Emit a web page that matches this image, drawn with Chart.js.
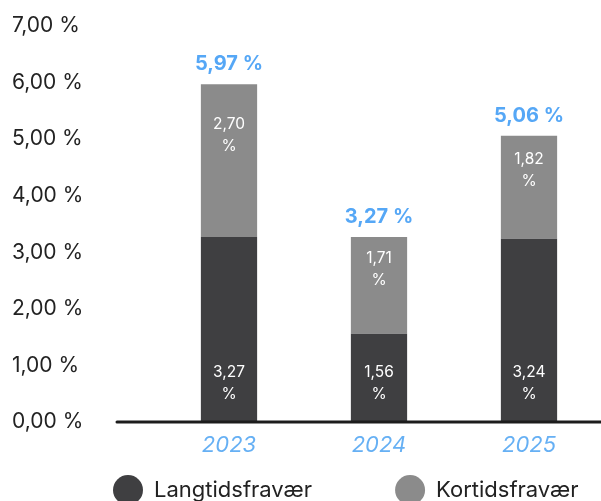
<!DOCTYPE html>
<html><head><meta charset="utf-8">
<script src="https://cdn.jsdelivr.net/npm/chart.js@4.4.1/dist/chart.umd.min.js"></script>
<style>
html,body{margin:0;padding:0;background:#fff;overflow:hidden;width:601px;height:501px;}
#wrap{position:relative;width:610px;height:501px;}
canvas{display:block;}
</style></head>
<body><div id="wrap"><canvas id="c" width="610" height="501"></canvas></div>
<script>
// ---- data ----
const years = ['2023', '2024', '2025'];
const langtid = [3.27, 1.56, 3.24];
const kortid = [2.70, 1.71, 1.82];
const seriesNames = ['Langtidsfravær', 'Kortidsfravær'];
const yTickValues = [0, 1, 2, 3, 4, 5, 6, 7];

// ---- style ----
const FONT = 'Inter, "Liberation Sans", sans-serif';
const DARK = '#3f3f41';
const GRAY = '#8b8b8b';
const BLUE = '#55a7f6';
const BLUE_LIGHT = '#66b0f4';
const fmt = v => v.toFixed(2).replace('.', ',');

const valueLabels = {
  id: 'valueLabels',
  afterDatasetsDraw(chart) {
    const ctx = chart.ctx;
    ctx.save();
    // baseline
    const y0 = chart.scales.y.getPixelForValue(0);
    ctx.beginPath();
    ctx.lineWidth = 3;
    ctx.lineCap = 'round';
    ctx.strokeStyle = '#1c1c1c';
    ctx.moveTo(chart.chartArea.left - 37, y0);
    ctx.lineTo(chart.width + 5, y0);
    ctx.stroke();

    ctx.textAlign = 'center';
    ctx.textBaseline = 'middle';
    ctx.font = '15.5px ' + FONT;
    ctx.fillStyle = '#ffffff';
    chart.data.datasets.forEach((ds, di) => {
      const meta = chart.getDatasetMeta(di);
      meta.data.forEach((bar, i) => {
        const top = Math.min(bar.y, bar.base), bottom = Math.max(bar.y, bar.base);
        const h = bottom - top;
        const cy = di === 0 ? bottom - 39 : top + h / 3;
        ctx.fillText(fmt(ds.data[i]), bar.x, cy - 11);
        ctx.fillText('%', bar.x, cy + 11);
      });
    });
    ctx.font = 'bold 20px ' + FONT;
    ctx.fillStyle = BLUE;
    const lastMeta = chart.getDatasetMeta(chart.data.datasets.length - 1);
    lastMeta.data.forEach((bar, i) => {
      const total = chart.data.datasets.reduce((s, d) => s + d.data[i], 0);
      ctx.fillText(fmt(total) + ' %', bar.x, bar.y - 20);
    });
    ctx.restore();
  }
};

const legendPlace = {
  id: 'legendPlace',
  afterLayout(chart) {
    const lg = chart.legend;
    if (!lg) return;
    const P = lg.options.labels.padding;
    lg.left = 113 - P;
    lg.right = chart.width + 400;
    lg.top = 490 - 15 - P;
  }
};

new Chart(document.getElementById('c'), {
  type: 'bar',
  data: {
    labels: years,
    datasets: [
      { label: seriesNames[0], data: langtid, backgroundColor: DARK, borderWidth: 0 },
      { label: seriesNames[1], data: kortid, backgroundColor: GRAY, borderWidth: 0 }
    ]
  },
  options: {
    responsive: false,
    animation: false,
    devicePixelRatio: 1,
    layout: { padding: { left: 12, right: 6, top: 26, bottom: 0 } },
    datasets: { bar: { categoryPercentage: 1, barPercentage: 0.375 } },
    scales: {
      x: {
        stacked: true,
        grid: { display: false },
        border: { display: false },
        ticks: { color: BLUE_LIGHT, font: { family: FONT, size: 22, style: 'italic' }, padding: 2 },
        afterFit(s) { s.height = 34; }
      },
      y: {
        stacked: true,
        min: 0, max: 7,
        afterBuildTicks(s) { s.ticks = yTickValues.map(v => ({ value: v })); },
        grid: { display: false },
        border: { display: false },
        ticks: {
          color: '#222',
          font: { family: FONT, size: 21 },
          crossAlign: 'far',
          callback: v => fmt(v) + ' %'
        },
        afterFit(s) { s.width = 142; }
      }
    },
    plugins: {
      tooltip: { enabled: false },
      legend: {
        position: 'bottom',
        align: 'start',
        maxHeight: 45,
        labels: {
          boxWidth: 30, boxHeight: 30,
          useBorderRadius: true, borderRadius: 15,
          padding: 83,
          color: '#222',
          font: { family: FONT, size: 22 }
        }
      }
    }
  },
  plugins: [valueLabels, legendPlace]
});
</script>
</body></html>
